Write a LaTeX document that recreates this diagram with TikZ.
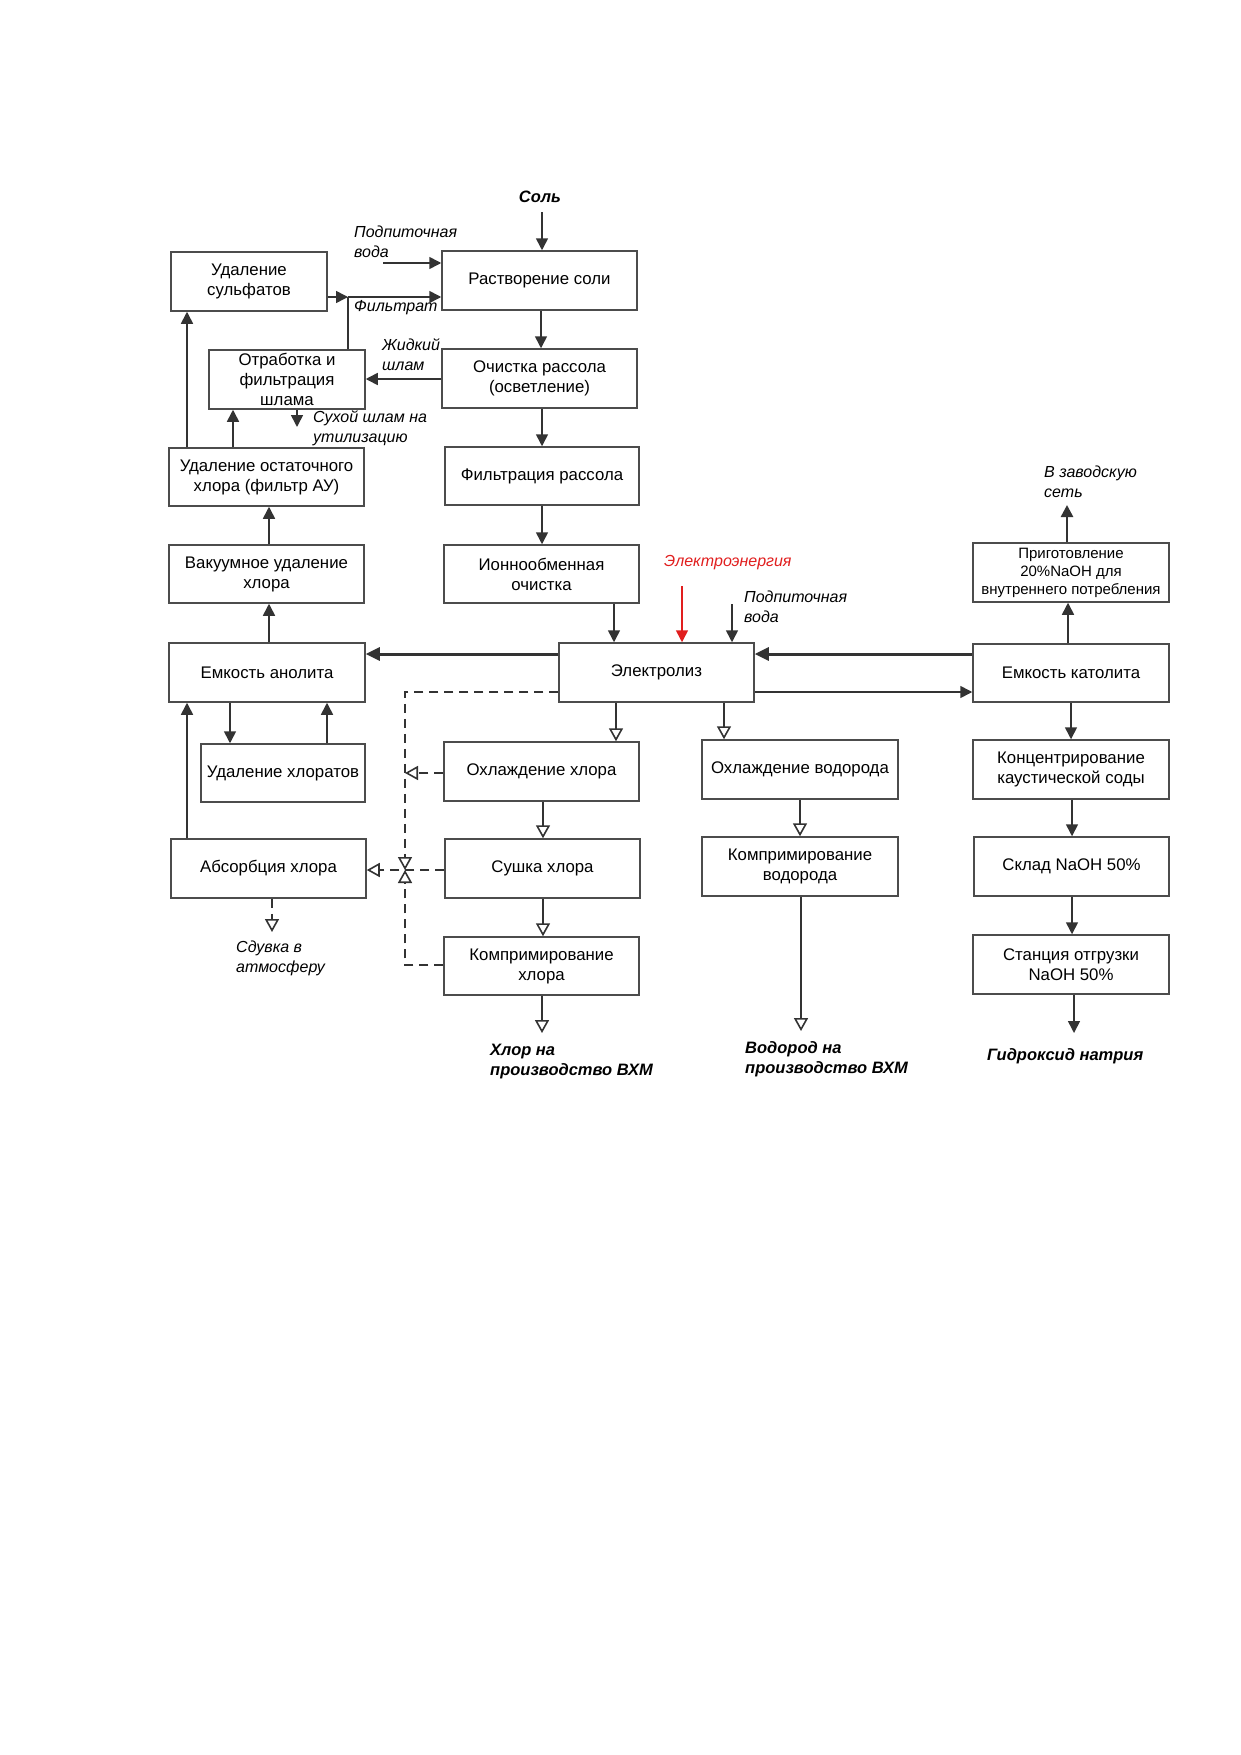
\documentclass[tikz,border=0pt]{standalone}
\usepackage{fontspec}
\setmainfont{Liberation Sans}
\usetikzlibrary{arrows.meta}
\tikzset{
  box/.style={draw=black!70, line width=1.5pt, rectangle, inner sep=0pt, align=center,
    font=\fontsize{16.8}{20}\selectfont},
  lbl/.style={anchor=west, align=left, inner sep=0pt, font=\fontsize{16}{20}\selectfont\itshape},
  blbl/.style={anchor=west, align=left, inner sep=0pt, font=\fontsize{16.5}{20}\selectfont\bfseries\itshape},
  ln/.style={draw=black!80, line width=1.6pt},
  farr/.style={ln, -{Triangle[length=12pt,width=12pt]}},
  tarr/.style={draw=black!80, line width=3pt, -{Triangle[length=14pt,width=13pt]}},
  oarr/.style={ln, -{Triangle[open,length=13pt,width=14pt,fill=white]}},
  dsh/.style={dash pattern=on 9pt off 6pt},
}
\newcommand\bx[6]{\node[box, minimum width={(#4-#2)*1pt}, minimum height={(#5-#3)*1pt}] (#1) at ({(#2+#4)/2},{(#3+#5)/2}) {#6};}
\begin{document}
\begin{tikzpicture}[x=1pt,y=-1pt]
\useasboundingbox[fill=white] (0,0) rectangle (1241,1755);

% boxes
\bx{sulf}{171}{252}{327}{311}{Удаление\\сульфатов}
\bx{rast}{442}{251}{637}{310}{Растворение соли}
\bx{otr}{209}{350}{365}{409}{Отработка и\\фильтрация\\шлама}
\bx{och}{442}{349}{637}{408}{Очистка рассола\\(осветление)}
\bx{ost}{169}{448}{364}{506}{Удаление остаточного\\хлора (фильтр АУ)}
\bx{filt}{445}{447}{639}{505}{Фильтрация рассола}
\bx{vak}{169}{545}{364}{603}{Вакуумное удаление\\хлора}
\bx{ion}{444}{545}{639}{603}{Ионнообменная\\очистка}
\bx{an}{169}{643}{365}{702}{Емкость анолита}
\bx{el}{559}{643}{754}{702}{Электролиз}
\bx{kat}{973}{644}{1169}{702}{Емкость католита}
\node[box, minimum width=196pt, minimum height=59pt, font=\fontsize{15}{18}\selectfont] (prig) at (1071,572.5) {Приготовление\\20\%NaOH для\\внутреннего потребления};
\bx{chlor}{201}{744}{365}{802}{Удаление хлоратов}
\bx{ohl}{444}{742}{639}{801}{Охлаждение хлора}
\bx{ohv}{702}{740}{898}{799}{Охлаждение водорода}
\bx{abs}{171}{839}{366}{898}{Абсорбция хлора}
\bx{sush}{445}{839}{640}{898}{Сушка хлора}
\bx{kh}{444}{937}{639}{995}{Компримирование\\хлора}
\bx{kv}{702}{837}{898}{896}{Компримирование\\водорода}
\bx{konc}{973}{740}{1169}{799}{Концентрирование\\каустической соды}
\bx{sklad}{974}{837}{1169}{896}{Склад NaOH 50\%}
\bx{stan}{973}{935}{1169}{994}{Станция отгрузки\\NaOH 50\%}

% labels
\node[blbl, anchor=center] (sol) at (540,197) {Соль};
\node[lbl] (podv1) at (354,242) {Подпиточная\\вода};
\node[lbl] (filtr) at (354,308) {Фильтрат};
\node[lbl] (zhid) at (382,355) {Жидкий\\шлам};
\node[lbl] (suh) at (313,428) {Сухой шлам на\\утилизацию};
\node[lbl] (sduv) at (236,958) {Сдувка в\\атмосферу};
\node[blbl] (hlorout) at (490,1062) {Хлор на\\производство ВХМ};
\node[blbl] (vodout) at (745,1059) {Водород на\\производство ВХМ};
\node[blbl] (naout) at (987,1056) {Гидроксид натрия};
\node[lbl] (zav) at (1044,482) {В заводскую\\сеть};
\node[lbl, text={rgb,255:red,225;green,30;blue,30}] (energ) at (664,563) {Электроэнергия};
\node[lbl] (podv2) at (744,607) {Подпиточная\\вода};

% coordinates
\coordinate (csol) at (542,212);
\coordinate (cw1) at (383,263);
\coordinate (j) at (348,297);
\coordinate (csuh) at (297,427);
\coordinate (xa) at (187,0);
\coordinate (xb) at (233,0);
\coordinate (xr) at (541,379);
\coordinate (xf) at (542,0);
\coordinate (xv) at (269,0);
\coordinate (xion) at (614,0);
\coordinate (xe1) at (682,586);
\coordinate (xw2) at (732,604);
\coordinate (dtop) at (405,692);
\coordinate (dj) at (405,870);
\coordinate (dbot) at (405,965);
\coordinate (dohl) at (405,773);
\coordinate (xcl1) at (230,0);
\coordinate (xcl2) at (327,0);
\coordinate (csd) at (272,932);
\coordinate (xohl) at (616,0);
\coordinate (xs) at (543,0);
\coordinate (xohv) at (724,0);
\coordinate (xh) at (800,0);
\coordinate (chout) at (542,1033);
\coordinate (cvout) at (801,1031);
\coordinate (cnout) at (1074,1033);
\coordinate (czav) at (1067,505);
\coordinate (xk1) at (1068,0);
\coordinate (xk2) at (1071,0);
\coordinate (xk3) at (1072,0);

% upper left / brine line
\draw[farr] (csol) -- (csol |- rast.north);
\draw[farr] (cw1) -- (cw1 -| rast.west);
\draw[farr] (sulf.east |- j) -- (j);
\draw[farr] (j) -- (j -| rast.west);
\draw[ln] (otr.north -| j) -- (j);
\draw[farr] (rast.south -| xr) -- (och.north -| xr);
\draw[farr] (och.west |- xr) -- (otr.east |- xr);
\draw[farr] (otr.south -| csuh) -- (csuh);
\draw[farr] (och.south -| xf) -- (filt.north -| xf);
\draw[farr] (ost.north -| xa) -- (sulf.south -| xa);
\draw[farr] (ost.north -| xb) -- (otr.south -| xb);
\draw[farr] (vak.north -| xv) -- (ost.south -| xv);
\draw[farr] (filt.south -| xf) -- (ion.north -| xf);
\draw[farr] (an.north -| xv) -- (vak.south -| xv);
\draw[farr] (ion.south -| xion) -- (el.north -| xion);
\draw[farr, draw={rgb,255:red,225;green,30;blue,30}, fill={rgb,255:red,225;green,30;blue,30}] (xe1) -- (el.north -| xe1);
\draw[farr] (xw2) -- (el.north -| xw2);

% electrolysis connections
\draw[tarr] (el.west |- 0,654) -- (an.east |- 0,654);
\draw[tarr] (kat.west |- 0,654) -- (el.east |- 0,654);
\draw[farr] (el.east |- 0,692) -- (kat.west |- 0,692);
\draw[farr] (an.south -| xcl1) -- (chlor.north -| xcl1);
\draw[farr] (chlor.north -| xcl2) -- (an.south -| xcl2);
\draw[farr] (abs.north -| xa) -- (an.south -| xa);

% chlorine line (dashed returns)
\draw[oarr, dsh] (el.west |- dtop) -- (dtop) -- (dj);
\draw[oarr, dsh] (kh.west |- dbot) -- (dbot) -- (dj);
\draw[oarr, dsh] (sush.west |- dj) -- (abs.east |- dj);
\draw[oarr, dsh] (ohl.west |- dohl) -- (dohl);
\draw[oarr, dsh] (abs.south -| csd) -- (csd);
\draw[oarr] (el.south -| xohl) -- (ohl.north -| xohl);
\draw[oarr] (ohl.south -| xs) -- (sush.north -| xs);
\draw[oarr] (sush.south -| xs) -- (kh.north -| xs);
\draw[oarr] (kh.south -| chout) -- (chout);

% hydrogen line
\draw[oarr] (el.south -| xohv) -- (ohv.north -| xohv);
\draw[oarr] (ohv.south -| xh) -- (kv.north -| xh);
\draw[oarr] (kv.south -| cvout) -- (cvout);

% caustic line
\draw[farr] (kat.north -| xk1) -- (prig.south -| xk1);
\draw[farr, line width=2.5pt] (prig.north -| czav) -- (czav);
\draw[farr] (kat.south -| xk2) -- (konc.north -| xk2);
\draw[farr] (konc.south -| xk3) -- (sklad.north -| xk3);
\draw[farr] (sklad.south -| xk3) -- (stan.north -| xk3);
\draw[farr] (stan.south -| cnout) -- (cnout);
\end{tikzpicture}
\end{document}
